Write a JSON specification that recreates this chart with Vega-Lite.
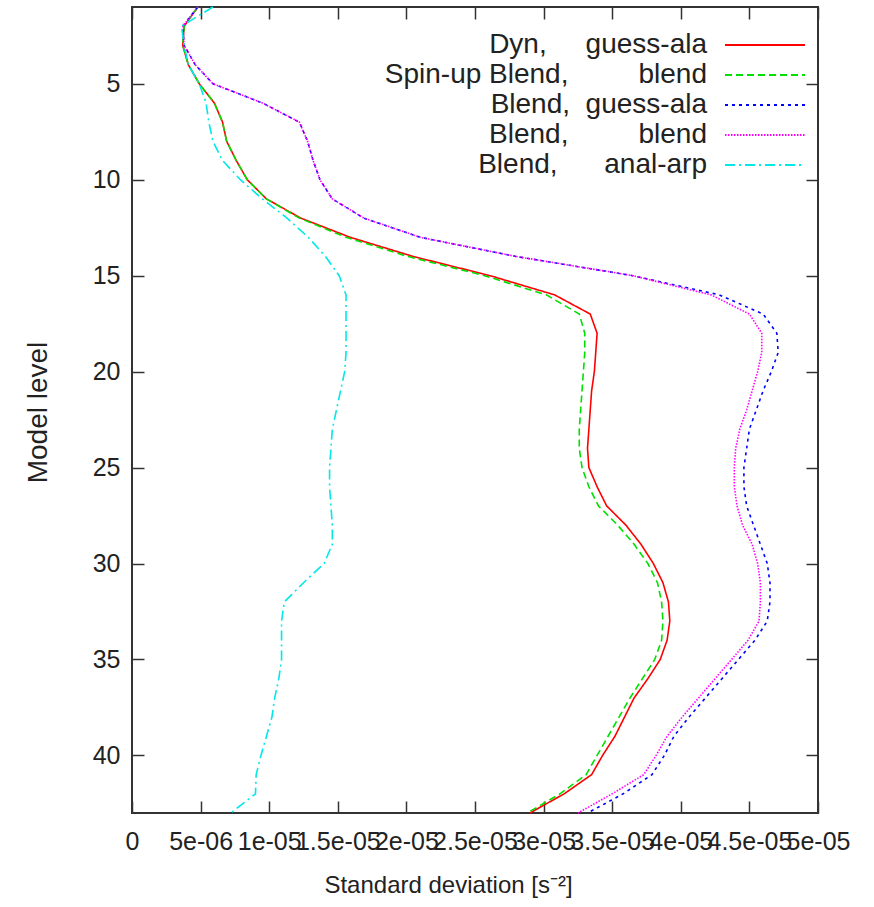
{
  "$schema": "https://vega.github.io/schema/vega-lite/v6.json",
  "width": 686,
  "height": 806,
  "autosize": {"type": "none"},
  "padding": {"left": 132, "top": 7, "right": 56, "bottom": 94},
  "background": "white",
  "config": {
    "font": "Liberation Sans",
    "view": {"stroke": "#333333", "strokeWidth": 2},
    "axis": {
      "grid": false,
      "domain": false,
      "tickColor": "#333333",
      "tickWidth": 1.5,
      "tickSize": -12,
      "labelFont": "Liberation Sans",
      "labelFontSize": 25,
      "labelColor": "#222222",
      "titleFont": "Liberation Sans",
      "titleFontWeight": "normal",
      "titleColor": "#222222"
    }
  },
  "data": {
    "values": [
      {"level": 1, "dyn": 4.8e-6, "spinup": 4.8e-6, "blend_guess": 4.8e-6, "blend_blend": 4.8e-6, "blend_anal": 5.9e-6},
      {"level": 2, "dyn": 3.8e-6, "spinup": 3.8e-6, "blend_guess": 3.7e-6, "blend_blend": 3.7e-6, "blend_anal": 3.6e-6},
      {"level": 3, "dyn": 3.7e-6, "spinup": 3.7e-6, "blend_guess": 3.8e-6, "blend_blend": 3.8e-6, "blend_anal": 3.8e-6},
      {"level": 4, "dyn": 4.1e-6, "spinup": 4.1e-6, "blend_guess": 4.6e-6, "blend_blend": 4.6e-6, "blend_anal": 4.1e-6},
      {"level": 5, "dyn": 4.9e-6, "spinup": 4.9e-6, "blend_guess": 5.9e-6, "blend_blend": 5.9e-6, "blend_anal": 4.9e-6},
      {"level": 6, "dyn": 6.0e-6, "spinup": 6.0e-6, "blend_guess": 9.5e-6, "blend_blend": 9.5e-6, "blend_anal": 5.4e-6},
      {"level": 7, "dyn": 6.6e-6, "spinup": 6.6e-6, "blend_guess": 12.2e-6, "blend_blend": 12.2e-6, "blend_anal": 5.6e-6},
      {"level": 8, "dyn": 6.9e-6, "spinup": 6.9e-6, "blend_guess": 12.8e-6, "blend_blend": 12.8e-6, "blend_anal": 5.9e-6},
      {"level": 9, "dyn": 7.6e-6, "spinup": 7.6e-6, "blend_guess": 13.2e-6, "blend_blend": 13.2e-6, "blend_anal": 6.6e-6},
      {"level": 10, "dyn": 8.4e-6, "spinup": 8.4e-6, "blend_guess": 13.7e-6, "blend_blend": 13.7e-6, "blend_anal": 7.9e-6},
      {"level": 11, "dyn": 9.8e-6, "spinup": 9.8e-6, "blend_guess": 14.6e-6, "blend_blend": 14.6e-6, "blend_anal": 9.5e-6},
      {"level": 12, "dyn": 12.3e-6, "spinup": 12.2e-6, "blend_guess": 16.9e-6, "blend_blend": 16.9e-6, "blend_anal": 11.3e-6},
      {"level": 13, "dyn": 15.9e-6, "spinup": 15.6e-6, "blend_guess": 21.0e-6, "blend_blend": 21.0e-6, "blend_anal": 12.85e-6},
      {"level": 14, "dyn": 20.5e-6, "spinup": 20.1e-6, "blend_guess": 28.0e-6, "blend_blend": 28.0e-6, "blend_anal": 14.1e-6},
      {"level": 15, "dyn": 26.1e-6, "spinup": 25.7e-6, "blend_guess": 36.5e-6, "blend_blend": 36.5e-6, "blend_anal": 15.1e-6},
      {"level": 16, "dyn": 30.8e-6, "spinup": 30.2e-6, "blend_guess": 42.8e-6, "blend_blend": 42.2e-6, "blend_anal": 15.6e-6},
      {"level": 17, "dyn": 33.4e-6, "spinup": 32.6e-6, "blend_guess": 46.0e-6, "blend_blend": 45.0e-6, "blend_anal": 15.6e-6},
      {"level": 18, "dyn": 33.9e-6, "spinup": 33.0e-6, "blend_guess": 47.0e-6, "blend_blend": 45.9e-6, "blend_anal": 15.6e-6},
      {"level": 19, "dyn": 33.8e-6, "spinup": 33.0e-6, "blend_guess": 47.1e-6, "blend_blend": 45.9e-6, "blend_anal": 15.6e-6},
      {"level": 20, "dyn": 33.7e-6, "spinup": 32.9e-6, "blend_guess": 46.6e-6, "blend_blend": 45.6e-6, "blend_anal": 15.5e-6},
      {"level": 21, "dyn": 33.5e-6, "spinup": 32.8e-6, "blend_guess": 46.0e-6, "blend_blend": 45.2e-6, "blend_anal": 15.2e-6},
      {"level": 22, "dyn": 33.4e-6, "spinup": 32.7e-6, "blend_guess": 45.5e-6, "blend_blend": 44.8e-6, "blend_anal": 14.9e-6},
      {"level": 23, "dyn": 33.3e-6, "spinup": 32.6e-6, "blend_guess": 45.0e-6, "blend_blend": 44.3e-6, "blend_anal": 14.6e-6},
      {"level": 24, "dyn": 33.2e-6, "spinup": 32.6e-6, "blend_guess": 44.8e-6, "blend_blend": 44.0e-6, "blend_anal": 14.5e-6},
      {"level": 25, "dyn": 33.3e-6, "spinup": 32.8e-6, "blend_guess": 44.6e-6, "blend_blend": 43.9e-6, "blend_anal": 14.4e-6},
      {"level": 26, "dyn": 33.9e-6, "spinup": 33.3e-6, "blend_guess": 44.6e-6, "blend_blend": 43.9e-6, "blend_anal": 14.4e-6},
      {"level": 27, "dyn": 34.6e-6, "spinup": 34.0e-6, "blend_guess": 44.8e-6, "blend_blend": 44.1e-6, "blend_anal": 14.5e-6},
      {"level": 28, "dyn": 36.0e-6, "spinup": 35.4e-6, "blend_guess": 45.3e-6, "blend_blend": 44.5e-6, "blend_anal": 14.6e-6},
      {"level": 29, "dyn": 37.1e-6, "spinup": 36.6e-6, "blend_guess": 45.8e-6, "blend_blend": 45.2e-6, "blend_anal": 14.6e-6},
      {"level": 30, "dyn": 38.0e-6, "spinup": 37.6e-6, "blend_guess": 46.3e-6, "blend_blend": 45.6e-6, "blend_anal": 14.0e-6},
      {"level": 31, "dyn": 38.7e-6, "spinup": 38.3e-6, "blend_guess": 46.5e-6, "blend_blend": 45.8e-6, "blend_anal": 12.5e-6},
      {"level": 32, "dyn": 39.1e-6, "spinup": 38.6e-6, "blend_guess": 46.5e-6, "blend_blend": 45.8e-6, "blend_anal": 11.1e-6},
      {"level": 33, "dyn": 39.2e-6, "spinup": 38.7e-6, "blend_guess": 46.3e-6, "blend_blend": 45.7e-6, "blend_anal": 10.9e-6},
      {"level": 34, "dyn": 39.0e-6, "spinup": 38.6e-6, "blend_guess": 45.4e-6, "blend_blend": 44.9e-6, "blend_anal": 10.9e-6},
      {"level": 35, "dyn": 38.5e-6, "spinup": 38.1e-6, "blend_guess": 44.2e-6, "blend_blend": 43.7e-6, "blend_anal": 10.9e-6},
      {"level": 36, "dyn": 37.6e-6, "spinup": 37.2e-6, "blend_guess": 43.0e-6, "blend_blend": 42.5e-6, "blend_anal": 10.7e-6},
      {"level": 37, "dyn": 36.6e-6, "spinup": 36.3e-6, "blend_guess": 41.8e-6, "blend_blend": 41.3e-6, "blend_anal": 10.4e-6},
      {"level": 38, "dyn": 35.9e-6, "spinup": 35.5e-6, "blend_guess": 40.6e-6, "blend_blend": 40.1e-6, "blend_anal": 10.2e-6},
      {"level": 39, "dyn": 35.2e-6, "spinup": 34.7e-6, "blend_guess": 39.5e-6, "blend_blend": 39.0e-6, "blend_anal": 9.8e-6},
      {"level": 40, "dyn": 34.3e-6, "spinup": 33.9e-6, "blend_guess": 38.8e-6, "blend_blend": 38.2e-6, "blend_anal": 9.4e-6},
      {"level": 41, "dyn": 33.5e-6, "spinup": 33.1e-6, "blend_guess": 37.9e-6, "blend_blend": 37.3e-6, "blend_anal": 9.05e-6},
      {"level": 42, "dyn": 31.5e-6, "spinup": 31.2e-6, "blend_guess": 35.8e-6, "blend_blend": 35.0e-6, "blend_anal": 9.0e-6},
      {"level": 43, "dyn": 29.0e-6, "spinup": 28.8e-6, "blend_guess": 33.2e-6, "blend_blend": 32.5e-6, "blend_anal": 7.2e-6}
    ]
  },
  "transform": [
    {"fold": ["dyn", "spinup", "blend_guess", "blend_blend", "blend_anal"], "as": ["series", "sd"]}
  ],
  "resolve": {"axis": {"x": "independent", "y": "independent"}},
  "layer": [
    {
      "mark": {"type": "line", "strokeWidth": 1.6, "interpolate": "linear"},
      "encoding": {
        "x": {
          "field": "sd",
          "type": "quantitative",
          "scale": {"domain": [0, 5e-5], "nice": false, "zero": false},
          "axis": {
            "orient": "bottom",
            "title": "Standard deviation [s⁻²]",
            "titleFontSize": 24,
            "titleX": 316,
            "values": [0, 5e-6, 1e-5, 1.5e-5, 2e-5, 2.5e-5, 3e-5, 3.5e-5, 4e-5, 4.5e-5, 5e-5],
            "labelExpr": "['0','5e-06','1e-05','1.5e-05','2e-05','2.5e-05','3e-05','3.5e-05','4e-05','4.5e-05','5e-05'][round(datum.value / 5e-6)]",
            "labelPadding": 28,
            "labelFlush": false,
            "labelOverlap": false,
            "titlePadding": 19
          }
        },
        "y": {
          "field": "level",
          "type": "quantitative",
          "scale": {"domain": [1, 43], "reverse": true, "nice": false, "zero": false},
          "axis": {
            "orient": "left",
            "title": "Model level",
            "titleFontSize": 28,
            "titleY": 405,
            "values": [5, 10, 15, 20, 25, 30, 35, 40],
            "labelPadding": 24,
            "titlePadding": 40
          }
        },
        "order": {"field": "level"},
        "color": {
          "field": "series",
          "type": "nominal",
          "scale": {
            "domain": ["dyn", "spinup", "blend_guess", "blend_blend", "blend_anal"],
            "range": ["#ff0000", "#00e000", "#0000ff", "#ff00ff", "#00e8e8"]
          },
          "legend": {
            "title": null,
            "orient": "none",
            "legendX": 589,
            "legendY": 24,
            "padding": 0,
            "symbolType": "M-4,0H4",
            "symbolSize": 400,
            "symbolOffset": 30,
            "symbolStrokeWidth": 2,
            "labelAlign": "right",
            "labelOffset": -72,
            "labelFont": "Liberation Sans",
            "labelFontSize": 28,
            "labelColor": "#222222",
            "labelLimit": 600,
            "rowPadding": 2,
            "encode": {
              "symbols": {"update": {"strokeDash": {"scale": "strokeDash", "field": "value"}}}
            },
            "labelExpr": "datum.value == 'dyn' ? 'Dyn,\u00a0\u00a0\u00a0\u00a0\u00a0guess-ala' : datum.value == 'spinup' ? 'Spin-up Blend,\u00a0\u00a0\u00a0\u00a0\u00a0\u00a0\u00a0\u00a0\u00a0blend' : datum.value == 'blend_guess' ? 'Blend,\u00a0\u00a0guess-ala' : datum.value == 'blend_blend' ? 'Blend,\u00a0\u00a0\u00a0\u00a0\u00a0\u00a0\u00a0\u00a0\u00a0blend' : 'Blend,\u00a0\u00a0\u00a0\u00a0\u00a0\u00a0anal-arp'"
          }
        },
        "strokeDash": {
          "field": "series",
          "type": "nominal",
          "scale": {
            "domain": ["dyn", "spinup", "blend_guess", "blend_blend", "blend_anal"],
            "range": [[1, 0], [7, 4], [3, 4], [1.5, 1.5], [10, 4, 2, 4]]
          },
          "legend": null
        }
      }
    },
    {
      "mark": {"type": "point", "opacity": 0, "size": 1},
      "encoding": {
        "x": {
          "field": "sd",
          "type": "quantitative",
          "axis": {
            "orient": "top",
            "title": null,
            "labels": false,
            "values": [0, 5e-6, 1e-5, 1.5e-5, 2e-5, 2.5e-5, 3e-5, 3.5e-5, 4e-5, 4.5e-5, 5e-5]
          }
        },
        "y": {
          "field": "level",
          "type": "quantitative",
          "axis": {
            "orient": "right",
            "title": null,
            "labels": false,
            "values": [5, 10, 15, 20, 25, 30, 35, 40]
          }
        }
      }
    }
  ]
}
